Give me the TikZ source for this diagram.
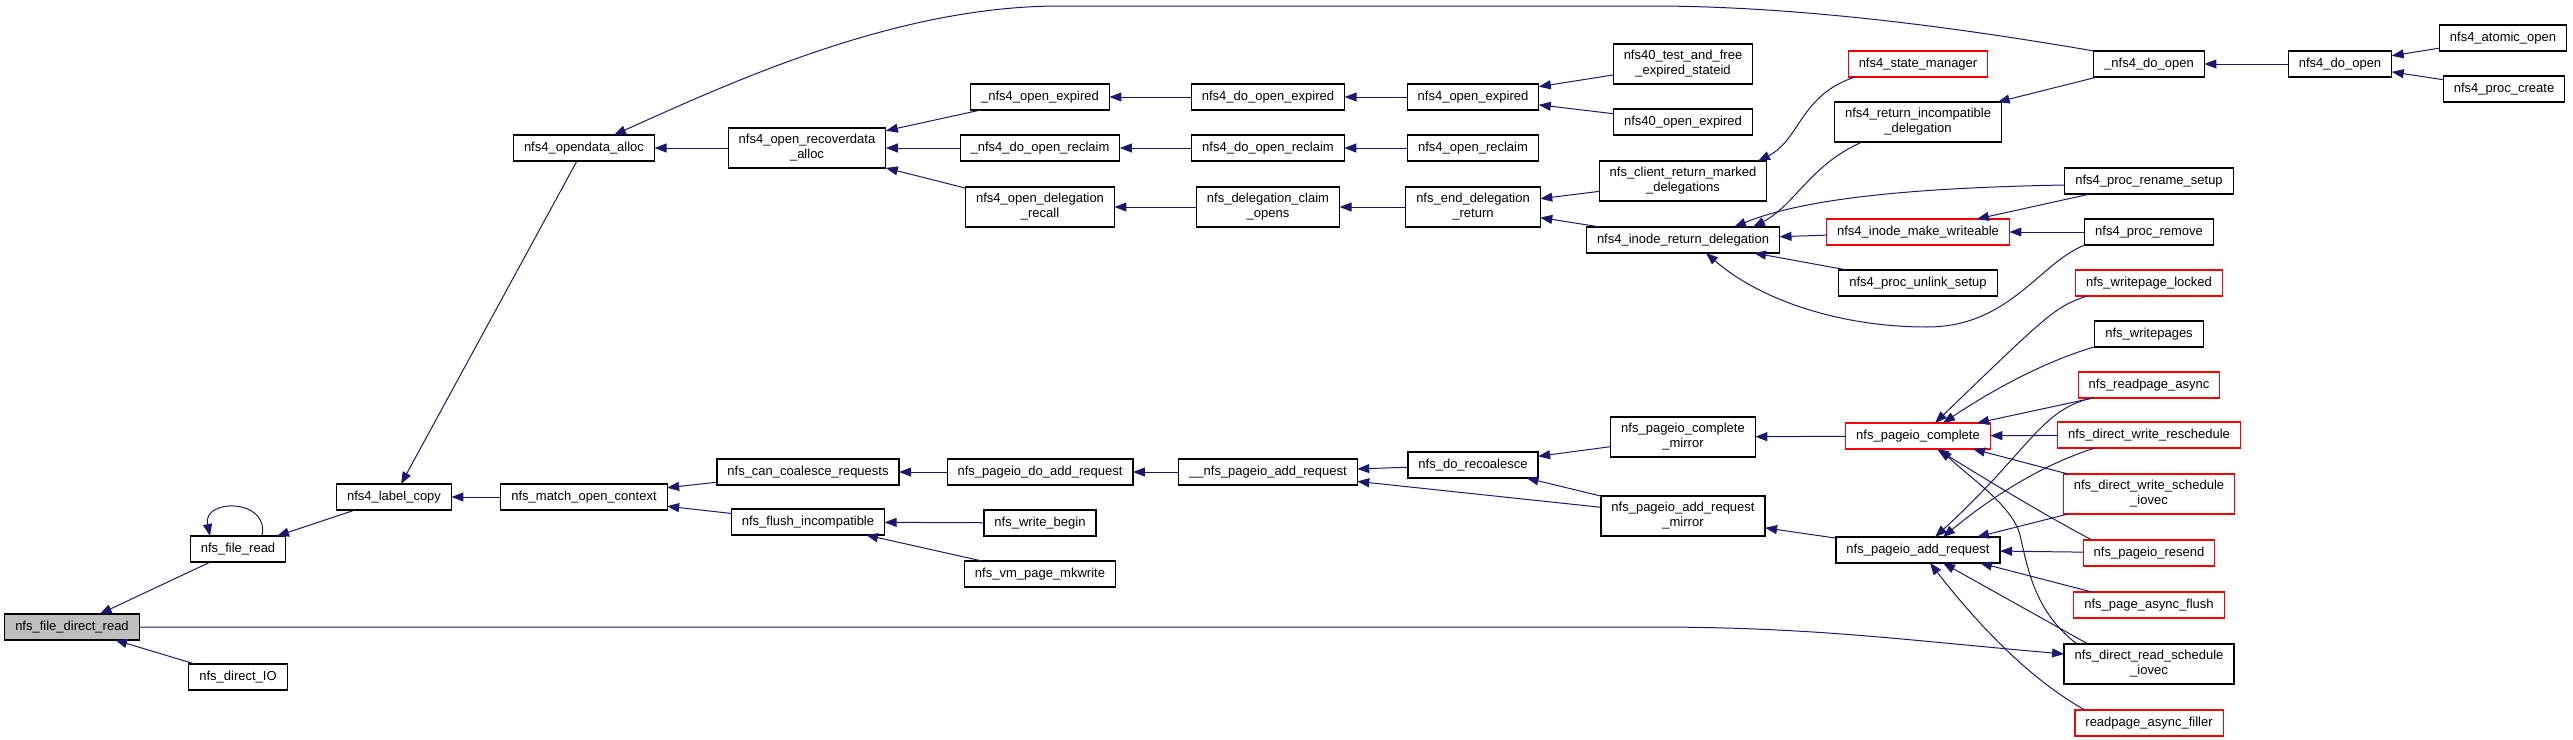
\documentclass[tikz,border=0pt]{standalone}
\usepackage{fontspec}
\setmainfont{Liberation Sans}
\usepackage{tikz}
\usetikzlibrary{arrows.meta,positioning}

\definecolor{callblue}{HTML}{191970}
\definecolor{selgray}{HTML}{BFBFBF}

\begin{document}
\begin{tikzpicture}[
        x=1pt, y=-1pt,
        font=\fontsize{13pt}{15pt}\selectfont,
        fn/.style={rectangle, draw=black, line width=1.2pt, fill=white, minimum height=26pt, inner xsep=10.5pt, inner ysep=2pt, outer sep=0pt, align=center},
        twoline/.style={minimum height=40pt},
        fnred/.style={fn, draw=red},
        fnsel/.style={fn, fill=selgray},
        call/.style={draw=callblue, line width=1pt, -{Triangle[length=12pt,width=9pt]}}
    ]
    \useasboundingbox (0,0) rectangle (2573,739);

    % Functions
    \node[fnsel] (direct) at (72,627) {nfs\_file\_direct\_read};
    \node[fn] (fileread) at (238,549) {nfs\_file\_read};
    \node[fn] (directio) at (238,677) {nfs\_direct\_IO};
    \node[fn] (labelcopy) at (394,497) {nfs4\_label\_copy};
    \node[fn] (opendata) at (584,148) {nfs4\_opendata\_alloc};
    \node[fn] (matchctx) at (584,497) {nfs\_match\_open\_context};
    \node[fn, twoline] (recover) at (807,148) {nfs4\_open\_recoverdata\\\_alloc};
    \node[fn] (coalesce) at (808,472) {nfs\_can\_coalesce\_requests};
    \node[fn] (flushinc) at (808,522) {nfs\_flush\_incompatible};
    \node[fn] (openexp) at (1040,97) {\_nfs4\_open\_expired};
    \node[fn] (reclaim) at (1040,148) {\_nfs4\_do\_open\_reclaim};
    \node[fn, twoline] (delegrecall) at (1040,207) {nfs4\_open\_delegation\\\_recall};
    \node[fn] (doaddreq) at (1040,472) {nfs\_pageio\_do\_add\_request};
    \node[fn, below=25pt of doaddreq] (writebegin) {nfs\_write\_begin};
    \node[fn, below=25pt of writebegin] (mkwrite) {nfs\_vm\_page\_mkwrite};
    \node[fn] (doopenexp) at (1268,97) {nfs4\_do\_open\_expired};
    \node[fn] (doreclaim) at (1268,148) {nfs4\_do\_open\_reclaim};
    \node[fn, twoline] (claimopens) at (1268,207) {nfs\_delegation\_claim\\\_opens};
    \node[fn] (pageioadd) at (1268,472) {\_\_nfs\_pageio\_add\_request};
    \node[fn] (openexpired) at (1473,97) {nfs4\_open\_expired};
    \node[fn] (openreclaim) at (1473,148) {nfs4\_open\_reclaim};
    \node[fn, twoline] (enddeleg) at (1473,207) {nfs\_end\_delegation\\\_return};
    \node[fn] (recoalesce) at (1473,465) {nfs\_do\_recoalesce};
    \node[fn, twoline] (testfree) at (1683,64) {nfs40\_test\_and\_free\\\_expired\_stateid};
    \node[fn] (open40) at (1683,122) {nfs40\_open\_expired};
    \node[fn, twoline] (marked) at (1683,181) {nfs\_client\_return\_marked\\\_delegations};
    \node[fn] (returndeleg) at (1683,240) {nfs4\_inode\_return\_delegation};
    \node[fn, twoline] (cplmirror) at (1683,437) {nfs\_pageio\_complete\\\_mirror};
    \node[fn, twoline] (addmirror) at (1683,516) {nfs\_pageio\_add\_request\\\_mirror};
    \node[fnred] (statemgr) at (1918,64) {nfs4\_state\_manager};
    \node[fn, twoline] (incompat) at (1918,122) {nfs4\_return\_incompatible\\\_delegation};
    \node[fnred] (writeable) at (1918,232) {nfs4\_inode\_make\_writeable};
    \node[fn] (unlink) at (1918,283) {nfs4\_proc\_unlink\_setup};
    \node[fnred] (complete) at (1918,436) {nfs\_pageio\_complete};
    \node[fn] (addrequest) at (1918,550) {nfs\_pageio\_add\_request};
    \node[fn] (doopen) at (2149,64) {\_nfs4\_do\_open};
    \node[fn] (renamesetup) at (2149,181) {nfs4\_proc\_rename\_setup};
    \node[fn, below=25pt of renamesetup] (procremove) {nfs4\_proc\_remove};
    \node[fnred, below=25pt of procremove] (wplocked) {nfs\_writepage\_locked};
    \node[fn, below=25pt of wplocked] (writepages) {nfs\_writepages};
    \node[fnred, below=25pt of writepages] (readasync) {nfs\_readpage\_async};
    \node[fnred, below=24pt of readasync] (wreschedule) {nfs\_direct\_write\_reschedule};
    \node[fnred, twoline, below=26pt of wreschedule] (wschedule) {nfs\_direct\_write\_schedule\\\_iovec};
    \node[fnred, below=26pt of wschedule] (resend) {nfs\_pageio\_resend};
    \node[fnred, below=26pt of resend] (asyncflush) {nfs\_page\_async\_flush};
    \node[fn, twoline, below=26pt of asyncflush] (rschedule) {nfs\_direct\_read\_schedule\\\_iovec};
    \node[fnred, below=26pt of rschedule] (filler) {readpage\_async\_filler};
    \node[fn] (nfsdoopen) at (2340,64) {nfs4\_do\_open};
    \node[fn] (atomicopen) at (2503,38) {nfs4\_atomic\_open};
    \node[fn] (proccreate) at (2504,89) {nfs4\_proc\_create};

    % Calls
    \draw[call] (fileread) -- (direct);
    \draw[call] (directio) -- (direct);
    \draw[call] (direct.east) -- (1650,627) to[out=0,in=175] ([yshift=10pt]rschedule.west);
    \draw[call] ([xshift=24pt]fileread.north) .. controls +(8,-38) and +(-8,-38) .. ([xshift=-28pt]fileread.north);
    \draw[call] (labelcopy) -- (fileread);
    \draw[call] (matchctx) -- (labelcopy);
    \draw[call] (opendata) -- (labelcopy);
    \draw[call] (recover) -- (opendata);
    \draw[call] ([xshift=-55pt]doopen.north) .. controls (1960,28) and (1800,6) .. (1650,6) -- (1060,6) .. controls (900,6) and (740,78) .. ([xshift=30pt]opendata.north);
    \draw[call] (openexp) -- (recover);
    \draw[call] (reclaim) -- (recover);
    \draw[call] (delegrecall) -- (recover);
    \draw[call] (doopenexp) -- (openexp);
    \draw[call] (doreclaim) -- (reclaim);
    \draw[call] (claimopens) -- (delegrecall);
    \draw[call] (openexpired) -- (doopenexp);
    \draw[call] (openreclaim) -- (doreclaim);
    \draw[call] (enddeleg) -- (claimopens);
    \draw[call] (testfree) -- (openexpired);
    \draw[call] (open40) -- (openexpired);
    \draw[call] (marked) -- (enddeleg);
    \draw[call] (returndeleg) -- (enddeleg);
    \draw[call] ([xshift=-63pt]statemgr.south) .. controls (1800,95) and (1800,140) .. ([xshift=75pt]marked.north);
    \draw[call] ([xshift=-56pt]incompat.south) .. controls (1810,165) and (1795,205) .. ([xshift=70pt]returndeleg.north);
    \draw[call] ([yshift=-4pt]renamesetup.west) .. controls (1900,188) and (1800,200) .. ([xshift=51pt]returndeleg.north);
    \draw[call] (writeable) -- (returndeleg);
    \draw[call] (unlink) -- (returndeleg);
    \draw[call] ([xshift=-64pt]procremove.south) .. controls (2040,262) and (2010,327) .. (1927,327) .. controls (1840,327) and (1760,300) .. ([xshift=23pt]returndeleg.south);
    \draw[call] (renamesetup) -- (writeable);
    \draw[call] (procremove) -- (writeable);
    \draw[call] (doopen) -- (incompat);
    \draw[call] (nfsdoopen) -- (doopen);
    \draw[call] (atomicopen) -- (nfsdoopen);
    \draw[call] (proccreate) -- (nfsdoopen);

    \draw[call] (coalesce) -- (matchctx);
    \draw[call] (flushinc) -- (matchctx);
    \draw[call] (doaddreq) -- (coalesce);
    \draw[call] (writebegin) -- (flushinc);
    \draw[call] (mkwrite) -- (flushinc);
    \draw[call] (pageioadd) -- (doaddreq);
    \draw[call] (recoalesce) -- (pageioadd);
    \draw[call] (addmirror) -- (pageioadd);
    \draw[call] (cplmirror) -- (recoalesce);
    \draw[call] (addmirror) -- (recoalesce);
    \draw[call] (complete) -- (cplmirror);
    \draw[call] (addrequest) -- (addmirror);

    \draw[call] ([xshift=-62pt]wplocked.south) .. controls (2055,307) and (2050,312) .. ([xshift=17pt]complete.north);
    \draw[call] ([xshift=-55pt]writepages.south) .. controls (2050,360) and (2000,385) .. ([xshift=25pt]complete.north);
    \draw[call] ([xshift=-56pt]readasync.south) -- ([xshift=59pt]complete.north);
    \draw[call] (wreschedule) -- (complete);
    \draw[call] ([xshift=-81pt]wschedule.north) -- ([xshift=55pt]complete.south);
    \draw[call] ([xshift=-57pt]resend.north) .. controls (2050,518) and (1990,482) .. ([xshift=19pt]complete.south);
    \draw[call] ([xshift=-72pt]rschedule.north) .. controls (2035,612) and (2028,570) .. (2020,535) .. controls (2012,505) and (1970,478) .. ([xshift=22pt]complete.south);
    \draw[call] ([xshift=-57pt]readasync.south) .. controls (2040,410) and (2030,450) .. ([xshift=17pt]addrequest.north);
    \draw[call] ([xshift=-54pt]wreschedule.south) .. controls (2050,462) and (2000,490) .. ([xshift=25pt]addrequest.north);
    \draw[call] ([xshift=-81pt]wschedule.south) -- ([xshift=59pt]addrequest.north);
    \draw[call] (resend) -- (addrequest);
    \draw[call] ([xshift=-57pt]asyncflush.north) -- ([xshift=62pt]addrequest.south);
    \draw[call] ([xshift=-61pt]rschedule.north) -- ([xshift=25pt]addrequest.south);
    \draw[call] ([xshift=-64pt]filler.north) .. controls (2040,685) and (1990,640) .. ([xshift=12pt]addrequest.south);
\end{tikzpicture}
\end{document}
